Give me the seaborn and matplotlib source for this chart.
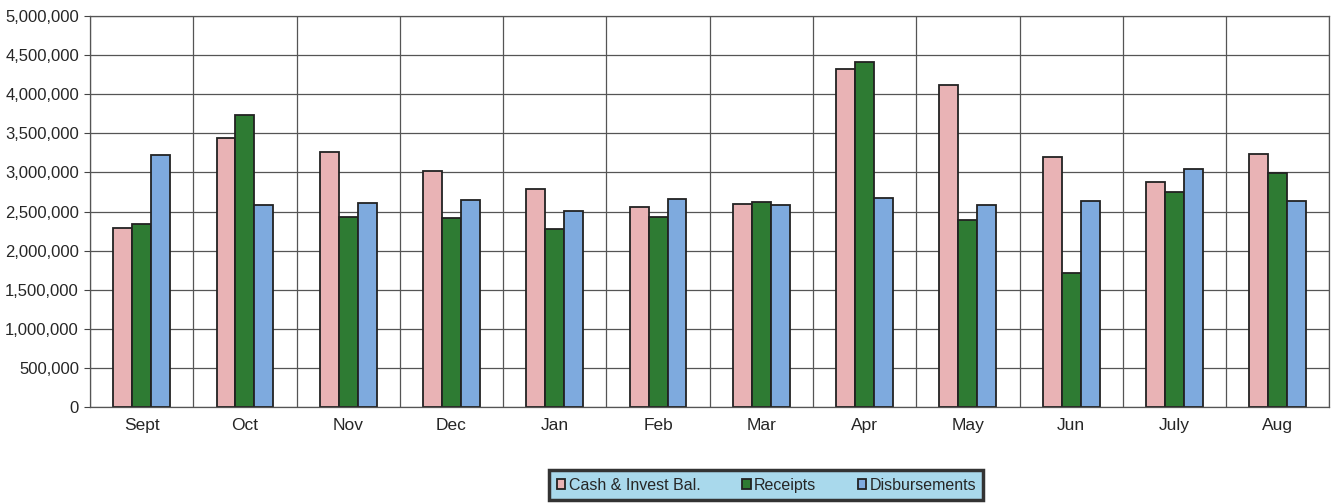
import pandas as pd
import matplotlib.pyplot as plt
import matplotlib.ticker as mticker
import seaborn as sns

months = ["Sept", "Oct", "Nov", "Dec", "Jan", "Feb", "Mar", "Apr", "May", "Jun", "July", "Aug"]
cash = [2290000, 3440000, 3260000, 3020000, 2790000, 2560000, 2600000, 4320000, 4120000, 3200000, 2880000, 3240000]
receipts = [2340000, 3730000, 2430000, 2420000, 2280000, 2430000, 2620000, 4410000, 2390000, 1710000, 2750000, 2990000]
disbursements = [3220000, 2580000, 2610000, 2650000, 2510000, 2660000, 2580000, 2670000, 2580000, 2630000, 3040000, 2630000]
series = ["Cash & Invest Bal.", "Receipts", "Disbursements"]
colors = ["#e9b3b5", "#2e7b33", "#7eaade"]

df = pd.DataFrame({
    "Month": months * 3,
    "Value": cash + receipts + disbursements,
    "Series": [series[0]] * 12 + [series[1]] * 12 + [series[2]] * 12,
})

sns.set_style("white")
plt.rcParams['font.family'] = ['Liberation Sans', 'DejaVu Sans']

fig = plt.figure(figsize=(13.34, 5.04), dpi=100)
ax = fig.add_axes([0.0675, 0.1925, 0.929, 0.7755])

sns.barplot(data=df, x="Month", y="Value", hue="Series", palette=colors,
            saturation=1, width=0.55, gap=0, edgecolor="#222222", linewidth=1.3,
            errorbar=None, ax=ax, legend=True)

ax.set_xlim(-0.5, len(months) - 0.5)
ax.set_ylim(0, 5000000)
ax.yaxis.set_major_locator(mticker.MultipleLocator(500000))
ax.yaxis.set_major_formatter(mticker.FuncFormatter(lambda v, p: f"{int(v):,}"))
ax.set_xticks(range(len(months)))
ax.set_xticks([i + 0.5 for i in range(-1, len(months))], minor=True)
ax.tick_params(axis="x", which="major", length=0, labelsize=12.5, pad=8)
ax.tick_params(axis="x", which="minor", length=5, color="#444444")
ax.tick_params(axis="y", length=4, color="#444444", labelsize=12, left=True, pad=4)
ax.set_axisbelow(True)
ax.grid(axis="y", which="major", color="#555555", linewidth=0.9)
ax.grid(axis="x", which="minor", color="#555555", linewidth=0.9)
ax.grid(axis="x", which="major", visible=False)
ax.set_xlabel("")
ax.set_ylabel("")
for s in ax.spines.values():
    s.set_color("#555555")
    s.set_linewidth(0.9)

ax.legend_.remove()
leg = fig.legend(*ax.get_legend_handles_labels(), loc="center",
                 bbox_to_anchor=(0.5745, 0.0375), ncol=3, frameon=True,
                 fancybox=False, facecolor="#a9d9ec", edgecolor="#333333",
                 fontsize=11.5, handlelength=0.55, handleheight=0.55,
                 handletextpad=0.2, columnspacing=2.6, borderpad=0.45,
                 borderaxespad=0)
leg.get_frame().set_linewidth(2.5)
leg.get_frame().set_alpha(1)

fig.savefig("out.png", dpi=100)
